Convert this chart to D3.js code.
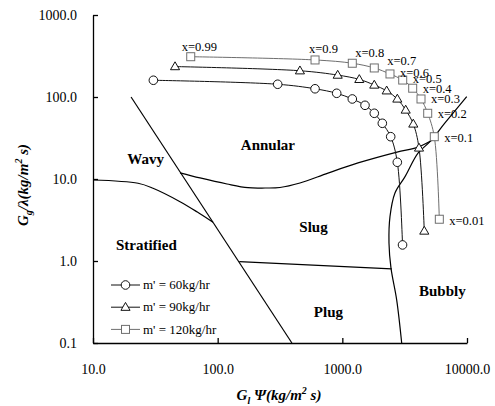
<!DOCTYPE html>
<html>
<head>
<meta charset="utf-8">
<script src="https://cdn.jsdelivr.net/npm/d3@7"></script>
<style>
  html, body { margin: 0; padding: 0; background: #fff; }
  svg text { font-family: "Liberation Serif", "Times New Roman", "DejaVu Serif", serif !important; }
</style>
</head>
<body>
<svg id="chart" width="495" height="406"></svg>
<script>
// ---- Data ----
const xTicks = [10, 100, 1000, 10000];
const yTicks = [0.1, 1, 10, 100, 1000];

// Series: G_l*Psi (x) and G_g/lambda (y)
const s60x  = [30.5, 303, 604, 901, 1202, 1520, 1804, 2093, 2443, 2761, 3040];
const s60y  = [160, 143, 126, 111, 94.6, 79.2, 63.3, 47.8, 32.8, 16.0, 1.57];
const s90x  = [45.5, 457, 918, 1368, 1804, 2268, 2761, 3222, 3708, 4121, 4543];
const s90y  = [235, 209, 185, 164, 140, 119, 94.6, 69.4, 46.9, 23.9, 2.32];
const s120x = [60.8, 604, 1202, 1804, 2411, 3050, 3667, 4276, 4840, 5466, 5998];
const s120y = [310, 283, 258, 226, 191, 161, 128, 94.6, 63.3, 32.8, 3.23];
const qualityLabels = ["x=0.99","x=0.9","x=0.8","x=0.7","x=0.6","x=0.5","x=0.4","x=0.3","x=0.2","x=0.1","x=0.01"];
const seriesNames = ["m' = 60kg/hr", "m' = 90kg/hr", "m' = 120kg/hr"];

// Flow-regime boundaries (Baker map)
const b1x = [20.2, 394];            const b1y = [100, 0.1];
const b2x = [10, 23, 30.3, 49.9, 68.2, 91.8];
const b2y = [9.73, 8.87, 7.71, 5.29, 3.98, 2.96];
const b3x = [49.9, 72.2, 118.8, 175, 240, 316, 457, 767, 1336, 2744, 4046, 5536];
const b3y = [11.9, 10.3, 8.69, 7.83, 7.77, 7.88, 8.94, 11.8, 15.7, 21.3, 24.5, 31.2];
const b4x = [9950, 6657, 5047, 4046, 3184, 2644, 2411, 2367, 2455, 2730, 2993];
const b4y = [101, 48.2, 28.5, 20.7, 10.7, 6.75, 3.47, 1.66, 0.823, 0.334, 0.1];
const b5x = [149, 2489];            const b5y = [0.98, 0.80];

const regionNames = ["Wavy", "Annular", "Slug", "Stratified", "Plug", "Bubbly"];
const regionX = [26.4, 253, 587, 26.8, 774, 6340];
const regionY = [15.2, 22.6, 2.26, 1.36, 0.209, 0.374];

// ---- Layout ----
const svg = d3.select("#chart");
const x = d3.scaleLog().domain([10, 10000]).range([93, 467]);
const y = d3.scaleLog().domain([0.1, 1000]).range([343, 15]);
const fmt = d3.format(".1f");

const zip = (xs, ys) => xs.map((v, i) => [v, ys[i]]);
const lineSmooth = d3.line().x(d => x(d[0])).y(d => y(d[1])).curve(d3.curveCatmullRom.alpha(0.5));
const lineStraight = d3.line().x(d => x(d[0])).y(d => y(d[1]));

// Axes
const xAxis = d3.axisBottom(x).tickValues(xTicks).tickFormat(fmt).tickSizeInner(-5).tickSizeOuter(0).tickPadding(21);
const yAxis = d3.axisLeft(y).tickValues(yTicks).tickFormat(fmt).tickSizeInner(-5).tickSizeOuter(0).tickPadding(16);

const gx = svg.append("g").attr("transform", "translate(0,343)").call(xAxis);
const gy = svg.append("g").attr("transform", "translate(93,0)").call(yAxis);
[gx, gy].forEach(g => {
  g.selectAll("path, line").attr("stroke", "#000").attr("stroke-width", 1.3);
  g.selectAll("text").attr("font-size", 14).attr("fill", "#000");
});

// Boundaries
const bStyle = sel => sel.attr("fill", "none").attr("stroke", "#000").attr("stroke-width", 1.2);
svg.append("path").attr("d", lineStraight(zip(b1x, b1y))).call(bStyle);
svg.append("path").attr("d", lineSmooth(zip(b2x, b2y))).call(bStyle);
svg.append("path").attr("d", lineSmooth(zip(b3x, b3y))).call(bStyle);
svg.append("path").attr("d", lineSmooth(zip(b4x, b4y))).call(bStyle);
svg.append("path").attr("d", lineStraight(zip(b5x, b5y))).call(bStyle);

// Region labels
svg.append("g").selectAll("text").data(regionNames).join("text")
  .attr("x", (d, i) => x(regionX[i])).attr("y", (d, i) => y(regionY[i]))
  .attr("text-anchor", "middle").attr("font-weight", "bold").attr("font-size", 15)
  .attr("fill", "#000").text(d => d);

// Series
const series = [
  { pts: zip(s60x, s60y), color: "#111", shape: "circle" },
  { pts: zip(s90x, s90y), color: "#111", shape: "triangle" },
  { pts: zip(s120x, s120y), color: "#6e6e6e", shape: "square" }
];

function drawMarker(g, shape, cx, cy, color) {
  if (shape === "circle") {
    g.append("circle").attr("cx", cx).attr("cy", cy).attr("r", 4.3)
      .attr("fill", "#fff").attr("stroke", color).attr("stroke-width", 1);
  } else if (shape === "triangle") {
    g.append("path").attr("d", d3.symbol(d3.symbolTriangle, 36)())
      .attr("transform", `translate(${cx},${cy + 0.5})`)
      .attr("fill", "#fff").attr("stroke", color).attr("stroke-width", 1);
  } else {
    g.append("rect").attr("x", cx - 4).attr("y", cy - 4).attr("width", 8).attr("height", 8)
      .attr("fill", "#fff").attr("stroke", color).attr("stroke-width", 1);
  }
}

series.forEach(s => {
  svg.append("path").attr("d", lineSmooth(s.pts)).attr("fill", "none")
    .attr("stroke", s.color).attr("stroke-width", 1);
  const g = svg.append("g");
  s.pts.forEach(p => drawMarker(g, s.shape, x(p[0]), y(p[1]), s.color));
});

// Quality labels next to the m'=120 squares
const labelOffsets = [[-9,-10],[-6,-11],[3,-10],[13,-7],[10,-1],[10,-1],[10,1],[10,0],[10,1],[10,1],[10,2]];
svg.append("g").selectAll("text").data(qualityLabels).join("text")
  .attr("x", (d, i) => x(s120x[i]) + labelOffsets[i][0])
  .attr("y", (d, i) => y(s120y[i]) + labelOffsets[i][1])
  .attr("dy", "0.32em").attr("font-size", 12.5).attr("fill", "#000").text(d => d);

// Legend
const legend = svg.append("g");
seriesNames.forEach((name, i) => {
  const ly = 285 + i * 22.2;
  legend.append("line").attr("x1", 111).attr("x2", 140).attr("y1", ly).attr("y2", ly)
    .attr("stroke", series[i].color).attr("stroke-width", 1);
  drawMarker(legend, series[i].shape, 125.5, ly, series[i].color);
  legend.append("text").attr("x", 143).attr("y", ly).attr("dy", "0.32em")
    .attr("font-size", 13).attr("fill", "#000").text(name);
});

// Axis titles
const xt = svg.append("text").attr("x", 279).attr("y", 400).attr("text-anchor", "middle")
  .attr("font-weight", "bold").attr("font-style", "italic").attr("font-size", 15);
xt.append("tspan").text("G");
xt.append("tspan").attr("font-size", 10).attr("dy", 4).text("l");
xt.append("tspan").attr("dy", -4).text(" Ψ(kg/m");
xt.append("tspan").attr("font-size", 10).attr("dy", -6).text("2");
xt.append("tspan").attr("dy", 6).text(" s)");

const yt = svg.append("text").attr("transform", "translate(28,185) rotate(-90)").attr("text-anchor", "middle")
  .attr("font-weight", "bold").attr("font-style", "italic").attr("font-size", 15);
yt.append("tspan").text("G");
yt.append("tspan").attr("font-size", 10).attr("dy", 4).text("g");
yt.append("tspan").attr("dy", -4).text("/λ(kg/m");
yt.append("tspan").attr("font-size", 10).attr("dy", -6).text("2");
yt.append("tspan").attr("dy", 6).text(" s)");
</script>
</body>
</html>
